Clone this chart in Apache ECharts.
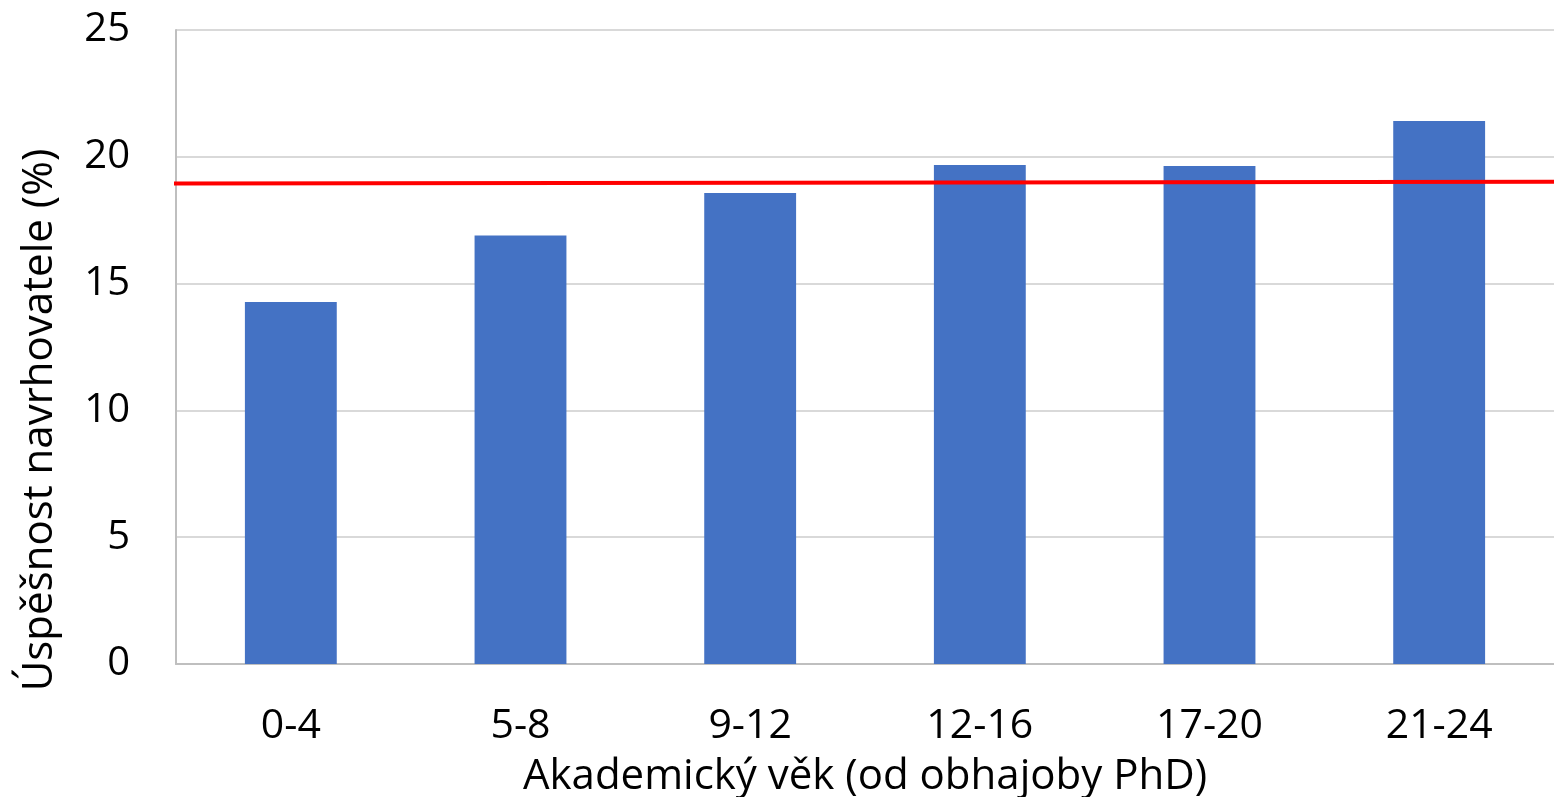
<!DOCTYPE html>
<html><head><meta charset="utf-8">
<script src="https://cdn.jsdelivr.net/npm/echarts@6/dist/echarts.min.js"></script>
<style>html,body{margin:0;padding:0;background:#fff}#c{width:1554px;height:797px}</style>
</head><body><div id="c"></div>
<script>
const categories = ['0-4','5-8','9-12','12-16','17-20','21-24'];
const successRate = [14.27, 16.9, 18.57, 19.68, 19.64, 21.41];
const averageLine = [[-0.006, 18.95], [1, 19.02]];
const yTicks = {min: 0, max: 25, interval: 5};
const xTitle = 'Akademický věk (od obhajoby PhD)';
const yTitle = 'Úspěšnost navrhovatele (%)';

const font = 'Open Sans';
const chart = echarts.init(document.getElementById('c'));
chart.setOption({
  animation: false,
  grid: {left: 176, right: 0, top: 30, bottom: 133, outerBoundsMode: 'none', containLabel: false},
  graphic: [{
    type: 'text', x: 40, y: 420, rotation: Math.PI / 2,
    style: {text: yTitle, fill: '#000', font: '42px "Open Sans"', textAlign: 'center', textVerticalAlign: 'middle'}
  }],
  xAxis: [{
    type: 'category', data: categories,
    axisLine: {lineStyle: {color: '#bfbfbf', width: 2}},
    axisTick: {show: false},
    axisLabel: {color: '#000', fontFamily: font, fontSize: 41, margin: 42},
    name: xTitle, nameLocation: 'middle', nameGap: 92,
    nameTextStyle: {color: '#000', fontFamily: font, fontSize: 42}
  }, {
    type: 'value', min: 0, max: 1, show: false
  }],
  yAxis: {
    type: 'value', min: yTicks.min, max: yTicks.max, interval: yTicks.interval,
    axisLine: {show: true, lineStyle: {color: '#bfbfbf', width: 2}},
    axisTick: {show: false},
    splitLine: {lineStyle: {color: '#d9d9d9', width: 2}},
    axisLabel: {color: '#000', fontFamily: font, fontSize: 40, margin: 46}
  },
  series: [{
    type: 'bar', data: successRate, barWidth: '40%',
    itemStyle: {color: '#4472c4'}
  }, {
    type: 'line', xAxisIndex: 1, data: averageLine, clip: false,
    symbol: 'none', lineStyle: {color: '#ff0000', width: 4}, z: 5
  }]
});
</script></body></html>
